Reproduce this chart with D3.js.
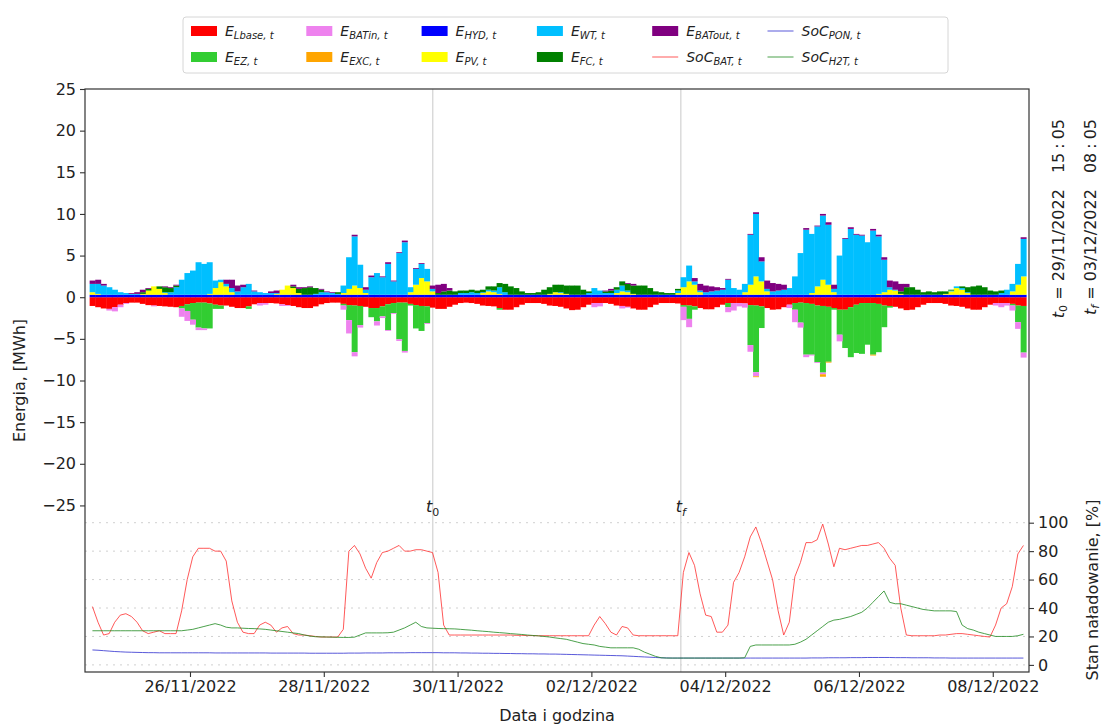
<!DOCTYPE html>
<html>
<head>
<meta charset="utf-8">
<script src="https://cdn.jsdelivr.net/npm/d3@7"></script>
<style>
  body { margin: 0; background: #fff; }
  text { font-family: "DejaVu Sans", sans-serif; fill: #222; }
</style>
</head>
<body>
<svg id="chart" width="1103" height="725"></svg>
<script>
// 2-hour bins, 24/11/2022 12:00 -> 08/12/2022 12:00, one row per day
const E_Lbase = [
  [-1.05,-1.2,-1.35,-1.4,-1.2,-0.9],
  [-0.7,-0.65,-0.65,-0.8,-0.95,-1.0,-1.05,-1.1,-1.15,-1.2,-1.05,-0.85],
  [-0.7,-0.65,-0.65,-0.75,-0.9,-1.0,-1.0,-1.15,-1.3,-1.3,-1.1,-0.85],
  [-0.7,-0.7,-0.7,-0.75,-0.85,-0.95,-1.05,-1.2,-1.3,-1.3,-1.1,-0.85],
  [-0.7,-0.65,-0.65,-0.8,-0.95,-1.0,-1.05,-1.15,-1.3,-1.3,-1.1,-0.85],
  [-0.7,-0.65,-0.65,-0.8,-0.95,-1.05,-1.1,-1.25,-1.4,-1.4,-1.15,-0.9],
  [-0.7,-0.65,-0.7,-0.8,-1.0,-1.05,-1.1,-1.3,-1.5,-1.5,-1.2,-0.9],
  [-0.7,-0.7,-0.7,-0.8,-1.0,-1.05,-1.15,-1.35,-1.55,-1.5,-1.2,-0.9],
  [-0.7,-0.7,-0.7,-0.8,-1.0,-1.05,-1.15,-1.35,-1.5,-1.5,-1.2,-0.9],
  [-0.7,-0.7,-0.7,-0.75,-0.95,-1.0,-1.1,-1.3,-1.45,-1.45,-1.2,-0.9],
  [-0.7,-0.7,-0.7,-0.75,-0.95,-1.0,-1.1,-1.3,-1.5,-1.45,-1.2,-0.9],
  [-0.7,-0.65,-0.7,-0.8,-1.0,-1.05,-1.15,-1.3,-1.5,-1.5,-1.2,-0.9],
  [-0.7,-0.7,-0.7,-0.8,-1.0,-1.05,-1.15,-1.35,-1.55,-1.5,-1.2,-0.9],
  [-0.7,-0.7,-0.7,-0.8,-1.0,-1.05,-1.15,-1.35,-1.5,-1.5,-1.2,-0.9],
  [-0.7,-0.7,-0.7,-0.8,-1.0,-1.05]
]
const E_EZ = [
  [0,0,0,0,0,0],
  [0,0,0,0,0,0,0,0,0,0,-0.3,-0.8],
  [-2.0,-3.0,-3.1,-3.0,-0.5,-0.4,0,0,0,0,-0.3,0],
  [0,0,0,0,0,0,0,0,0,0,0,0],
  [0,0,0,-0.2,-1.8,-5.6,-2.3,0,-1.1,-1.6,-1.2,-3.1],
  [-1.2,-4.4,-5.8,-0.2,-2.8,-3.0,-2.0,0,0,0,0,0],
  [0,0,0,0,0,0,0,-0.2,0,0,0,0],
  [0,0,0,0,0,0,0,0,0,0,0,0],
  [0,0,0,0,0,0,0,0,0,0,0,0],
  [0,0,0,0,-0.2,-1.6,-0.4,0,0,0,0,0],
  [-0.5,0,0,0,-4.8,-8.0,-2.6,0,0,0,0,0],
  [-0.8,-2.4,-6.2,-6.1,-6.8,-8.0,-6.6,-0.2,-3.0,-4.6,-6.0,-5.8],
  [-6.1,-5.0,-6.2,-5.8,-2.6,-0.2,0,0,0,0,0,0],
  [0,0,0,0,0,0,0,0,0,0,0,0],
  [0,0,0,-0.2,-2.0,-5.6]
]
const E_BATin = [
  [0,0,0,-0.2,-0.5,-0.3],
  [-0.1,0,0,0,0,-0.1,0,0,0,0,-1.0,-1.2],
  [-0.6,-0.3,-0.2,0,0,0,0,0,0,0,0,0],
  [-0.3,-0.2,0,0,-0.2,-0.1,0,0,0,0,0,0],
  [0,0,0,-0.5,-1.6,-0.5,-0.3,0,0,-0.5,-0.2,-0.1],
  [-0.1,-0.2,-0.2,0,0,0,-0.1,0,0,0,0,0],
  [0,0,0,0,0,0,0,0,0,0,0,0],
  [0,0,0,0,0,0,0,0,0,0,0,0],
  [-0.5,-0.4,0,0,0,-0.3,-0.1,0,0,0,0,0],
  [0,0,0,0,-1.6,-1.0,0,0,0,0,0,0],
  [-0.6,-0.9,-0.4,-0.5,-0.8,-0.5,0,0,0,0,0,-0.4],
  [-1.5,-0.6,-0.3,-0.1,-0.1,-0.2,0,0,-0.8,0,0,0],
  [0,0,0,0,0,0,0,0,0,0,0,0],
  [0,0,0,0,0,0,0,0,0,0,0,0],
  [-0.3,-0.5,-0.3,-0.6,-0.8,-0.6]
]
const E_EXC = [
  [0,0,0,0,0,0],
  [0,0,0,0,0,0,0,0,0,0,0,0],
  [0,0,0,0,0,0,0,0,0,0,0,0],
  [0,0,0,0,0,0,0,0,0,0,0,0],
  [0,0,0,0,0,0,0,0,0,0,0,0],
  [0,0,0,0,0,0,0,0,0,0,0,0],
  [0,0,0,0,0,0,0,0,0,0,0,0],
  [0,0,0,0,0,0,0,0,0,0,0,0],
  [0,0,0,0,0,0,0,0,0,0,0,0],
  [0,0,0,0,0,0,0,0,0,0,0,0],
  [0,0,0,0,0,-0.1,0,0,0,0,0,0],
  [0,0,0,0,0,-0.3,-0.1,0,0,0,0,0],
  [0,0,-0.1,0,0,0,0,0,0,0,0,0],
  [0,0,0,0,0,0,0,0,0,0,0,0],
  [0,0,0,0,0,0]
]
const E_HYD = [
  [0.3,0.3,0.3,0.3,0.3,0.3],
  [0.3,0.3,0.3,0.3,0.3,0.3,0.3,0.3,0.3,0.3,0.3,0.3],
  [0.3,0.3,0.3,0.3,0.3,0.3,0.3,0.3,0.3,0.3,0.3,0.3],
  [0.3,0.3,0.3,0.3,0.3,0.3,0.3,0.3,0.3,0.3,0.3,0.3],
  [0.3,0.3,0.3,0.3,0.3,0.3,0.3,0.3,0.3,0.3,0.3,0.3],
  [0.3,0.3,0.3,0.3,0.3,0.3,0.3,0.3,0.3,0.3,0.3,0.3],
  [0.3,0.3,0.3,0.3,0.3,0.3,0.3,0.3,0.3,0.3,0.3,0.3],
  [0.3,0.3,0.3,0.3,0.3,0.3,0.3,0.3,0.3,0.3,0.3,0.3],
  [0.3,0.3,0.3,0.3,0.3,0.3,0.3,0.3,0.3,0.3,0.3,0.3],
  [0.3,0.3,0.3,0.3,0.3,0.3,0.3,0.3,0.3,0.3,0.3,0.3],
  [0.3,0.3,0.3,0.3,0.3,0.3,0.3,0.3,0.3,0.3,0.3,0.3],
  [0.3,0.3,0.3,0.3,0.3,0.3,0.3,0.3,0.3,0.3,0.3,0.3],
  [0.3,0.3,0.3,0.3,0.3,0.3,0.3,0.3,0.3,0.3,0.3,0.3],
  [0.3,0.3,0.3,0.3,0.3,0.3,0.3,0.3,0.3,0.3,0.3,0.3],
  [0.3,0.3,0.3,0.3,0.3,0.3]
]
const E_PV = [
  [0.3,0.1,0,0,0,0],
  [0,0,0,0.1,0.5,1.0,0.7,0.2,0,0,0,0],
  [0,0,0,0.1,0.8,1.5,1.0,0.3,0,0,0,0],
  [0,0,0,0.1,0.6,1.1,0.8,0.2,0,0,0,0],
  [0,0,0,0.2,0.7,1.1,0.8,0.2,0,0,0,0],
  [0,0,0,0.3,1.2,2.0,1.6,0.4,0,0,0,0],
  [0,0,0,0,0.2,0.4,0.3,0.1,0,0,0,0],
  [0,0,0,0,0.1,0.3,0.2,0.1,0,0,0,0],
  [0,0,0,0,0.2,0.4,0.3,0.1,0,0,0,0],
  [0,0,0,0.2,0.9,1.6,1.2,0.3,0,0,0,0],
  [0,0,0,0.3,1.2,2.2,1.6,0.4,0,0,0,0],
  [0,0,0,0.2,1.0,1.8,1.2,0.3,0,0,0,0],
  [0,0,0,0.1,0.3,0.6,0.5,0.1,0,0,0,0],
  [0,0,0,0.1,0.4,0.8,0.6,0.2,0,0,0,0],
  [0,0,0,0.4,1.2,2.2]
]
const E_WT = [
  [1.0,1.2,1.1,0.9,0.6,0.3],
  [0.2,0.1,0.1,0,0,0,0,0.1,0.3,0.9,1.8,2.6],
  [2.9,3.9,3.7,3.8,0.9,0.3,0.3,0.5,0.4,0.9,1.3,0.4],
  [0.3,0.2,0.2,0.1,0,0,0,0,0,0,0.1,0.3],
  [0.3,0.2,0.1,0.9,3.8,5.9,2.8,0.4,2.1,2.6,2.1,3.7],
  [1.6,5.0,6.3,0.6,1.9,1.7,1.5,0.3,0,0,0,0],
  [0.2,0.2,0.3,0.2,0.1,0.2,0.2,0.8,0.3,0,0,0],
  [0,0,0,0,0,0,0.1,0,0,0,0,0.2],
  [0.8,0.5,0.2,0.2,0.4,0.7,0.2,0,0,0,0,0],
  [0,0,0,0.3,1.2,1.9,0.4,0.2,0.3,0.4,0.5,0.6],
  [1.8,0.8,0.6,1.0,6.0,7.5,2.4,0.3,0.4,0.5,0.6,0.8],
  [2.2,5.0,7.8,7.1,7.2,7.7,7.2,0.4,4.7,6.7,7.9,7.2],
  [7.1,6.3,7.7,6.9,3.9,0.3,0.1,0,0,0,0,0],
  [0,0,0,0,0.1,0.2,0.2,0.1,0,0,0,0],
  [0,0.2,0.6,0.9,2.5,4.5]
]
const E_FC = [
  [0,0,0,0,0,0],
  [0,0,0,0.2,0.2,0,0.3,0.6,0.5,0.2,0,0],
  [0,0,0,0,0,0,0,0,0,0,0,0],
  [0,0,0,0,0,0,0.2,0.5,0.8,0.9,0.7,0.3],
  [0,0,0.2,0,0,0,0,0,0,0,0,0],
  [0,0,0,0,0,0,0,0,0.2,0.4,0.5,0.4],
  [0.3,0.3,0.3,0.3,0.3,0.4,0.5,0.5,1.0,1.0,0.8,0.4],
  [0.2,0.2,0.3,0.6,0.8,0.9,0.9,1.0,1.1,1.1,0.6,0.2],
  [0,0,0.2,0.3,0.3,0.5,0.8,1.0,1.1,1.1,0.8,0.4],
  [0.3,0.2,0.2,0.2,0,0,0,0,0,0,0,0],
  [0,0,0,0,0,0,0,0,0,0,0,0],
  [0,0,0,0,0,0,0,0,0,0,0,0],
  [0,0,0,0,0,0,0,0.3,0.9,0.9,0.6,0.3],
  [0.4,0.3,0.4,0.3,0.1,0,0.2,0.6,1.0,1.1,0.9,0.5],
  [0.4,0.3,0,0,0,0]
]
const E_BATout = [
  [0.4,0.5,0.2,0,0,0],
  [0,0.1,0.2,0.3,0.1,0,0,0.1,0.1,0.1,0,0],
  [0,0,0,0,0,0,0.5,1.0,0.7,0.3,0,0.1],
  [0,0,0.2,0.3,0,0,0.2,0.2,0.1,0.1,0,0.1],
  [0.1,0.1,0,0,0,0.2,0,0.3,0.2,0,0.1,0.2],
  [0.1,0.1,0.2,0,0.1,0.1,0,0.4,1.0,0.9,0.3,0],
  [0,0,0,0,0,0,0,0,0,0,0,0],
  [0,0,0,0,0,0,0,0,0,0,0,0],
  [0,0,0.1,0.2,0,0,0.1,0.2,0,0,0,0],
  [0,0,0,0,0,0,0.4,0.8,0.8,0.6,0.4,0.2],
  [0.1,0,0,0,0.1,0.2,0.5,1.0,1.0,0.8,0.6,0],
  [0,0,0.2,0,0.1,0.2,0.3,0.5,0,0.1,0.2,0.1],
  [0.1,0,0.2,0.2,0.3,0.8,1.0,0.9,0.4,0,0,0],
  [0,0,0,0,0,0,0,0,0,0,0,0],
  [0,0,0,0,0,0.2]
]
// state of charge [%], at the middle of each 2-hour bin
const SoC_BAT = [
  [41,30,21,22,30,35],
  [36,34,30,24,22,23,24,22,22,22,38,60],
  [76,82,82,82,80,80,73,45,30,23,22,22],
  [28,30,28,23,26,27,22,21,21,20.5,20,19.6],
  [19.6,19.6,19.6,25,80,84,78,68,61,72,79,80],
  [82,84,80,80,81,81,80,79,65,28,21,21],
  [21,21,21,21,21,21,21,21,21,21,20.8,20.8],
  [20.6,20.6,20.5,20.5,20.5,20.5,20.5,20.5,20.5,20.5,20.5,20.5],
  [28,34,29,23,21,27,26,21,20.5,20.5,20.5,20.5],
  [20.5,20.5,20.5,20.5,65,79,70,50,35,34,23,23],
  [28,58,65,76,90,97,86,73,60,38,21,30],
  [62,72,86,86,88,99,85,69,82,81,82,83],
  [84,84,85,86,82,75,70,40,21,20.5,20.5,20.5],
  [20.5,20.5,21,21,21.5,22,22,21.5,21,20.5,20,19.6],
  [28,40,43,55,78,84]
]
const SoC_H2T = [
  [24,24,24,24,24,24],
  [24,24,24,24,24,24,24,24,24,24,24,24.5],
  [25,26,27,28,29,28,26.5,26,26,25.8,25.6,25.5],
  [25.3,25,24.5,24,23.5,23,22.5,22,21,20.3,19.8,19.7],
  [19.6,19.5,19.4,19.3,19.3,19.5,21,22.5,22.5,22.5,22.5,22.6],
  [23,24.5,26,28,30,27,26,25.8,25.6,25.5,25.4,25.3],
  [25,24.7,24.4,24,23.7,23.4,23,22.7,22.4,22,21.7,21.4],
  [21,20.7,20.4,20,19.6,19,18.5,18,17,16,15,14.5],
  [14,13,12.5,12,12,12,12,12,11,9,7.5,6],
  [5,4.8,4.8,4.8,4.8,4.8,4.8,4.8,4.8,4.8,4.8,4.8],
  [4.8,4.8,4.8,5,13,14,14,14,14,14,14,14],
  [14.5,16,18,21,24,27,30,31.5,32,33,34,35.5],
  [37,40,44,48,52,44,43,43,42,41,40,39],
  [38.5,38,38,38,38,37.5,28,25.5,24.5,23,22,21],
  [20,20,20,20,20.5,21.5]
]
const SoC_PON = [
  [10.5,10.3,10.0,9.7,9.4,9.2],
  [9.0,8.9,8.8,8.7,8.6,8.6,8.5,8.5,8.5,8.5,8.5,8.5],
  [8.5,8.5,8.5,8.5,8.4,8.4,8.4,8.4,8.4,8.4,8.4,8.4],
  [8.4,8.4,8.3,8.3,8.3,8.3,8.3,8.3,8.3,8.2,8.2,8.2],
  [8.2,8.2,8.2,8.2,8.3,8.3,8.3,8.4,8.4,8.4,8.4,8.5],
  [8.5,8.5,8.5,8.6,8.6,8.6,8.6,8.6,8.6,8.5,8.5,8.5],
  [8.4,8.4,8.3,8.3,8.2,8.2,8.1,8.1,8.0,8.0,7.9,7.9],
  [7.8,7.8,7.7,7.7,7.6,7.6,7.5,7.4,7.3,7.2,7.1,7.0],
  [6.9,6.8,6.7,6.6,6.5,6.4,6.2,6.0,5.8,5.6,5.4,5.2],
  [5.0,4.9,4.8,4.8,4.8,4.8,4.8,4.8,4.8,4.8,4.8,4.8],
  [4.8,4.8,4.8,4.8,4.8,4.8,4.8,4.8,4.8,4.8,4.8,4.8],
  [4.8,4.8,4.8,4.9,4.9,4.9,5.0,5.0,5.0,5.0,5.1,5.1],
  [5.1,5.2,5.2,5.2,5.2,5.2,5.1,5.1,5.1,5.0,5.0,5.0],
  [5.0,4.9,4.9,4.9,4.8,4.8,4.8,4.8,4.8,4.8,4.8,4.8],
  [4.8,4.8,4.8,4.8,4.8,4.8]
]

const yTicksLeft = [-25, -20, -15, -10, -5, 0, 5, 10, 15, 20, 25]
const yTicksRight = [0, 20, 40, 60, 80, 100]
const xTickDates = ['2022-11-26', '2022-11-28', '2022-11-30', '2022-12-02', '2022-12-04', '2022-12-06', '2022-12-08']
const markers = [
  { name: '0', time: '2022-11-29 15:05', date: '29/11/2022', clock: '15\u2005:\u200505' },
  { name: 'f', time: '2022-12-03 08:05', date: '03/12/2022', clock: '08\u2005:\u200505' }
]

const series = [
  { key: 'Lbase', vals: E_Lbase, color: '#ff0000', sub: 'Lbase, t' },
  { key: 'EZ', vals: E_EZ, color: '#32cd32', sub: 'EZ, t' },
  { key: 'BATin', vals: E_BATin, color: '#ee82ee', sub: 'BATin, t' },
  { key: 'EXC', vals: E_EXC, color: '#ffa500', sub: 'EXC, t' },
  { key: 'HYD', vals: E_HYD, color: '#0000ff', sub: 'HYD, t' },
  { key: 'PV', vals: E_PV, color: '#ffff00', sub: 'PV, t' },
  { key: 'WT', vals: E_WT, color: '#00bfff', sub: 'WT, t' },
  { key: 'FC', vals: E_FC, color: '#008000', sub: 'FC, t' },
  { key: 'BATout', vals: E_BATout, color: '#800080', sub: 'BATout, t' }
]
const socSeries = [
  { key: 'BAT', vals: SoC_BAT, color: '#ff3030', sub: 'BAT, t' },
  { key: 'PON', vals: SoC_PON, color: '#3030d0', sub: 'PON, t' },
  { key: 'H2T', vals: SoC_H2T, color: '#1f8a1f', sub: 'H2T, t' }
]

const plot = { left: 85, right: 1029, top: 89, bottom: 672 }
const parseTime = d3.timeParse('%Y-%m-%d %H:%M')
const parseDay = d3.timeParse('%Y-%m-%d')

const start = new Date(2022, 10, 24, 12)
const n = E_WT.flat().length
const binStart = d3.range(n).map(k => d3.timeHour.offset(start, 2 * k))

const rows = binStart.map((t, i) => {
  const r = { t }
  series.forEach(s => { r[s.key] = s.vals.flat()[i] })
  return r
})

const x = d3.scaleTime()
  .domain([new Date(2022, 10, 24, 10, 20), new Date(2022, 11, 8, 13, 0)])
  .range([plot.left, plot.right])
const yL = d3.scaleLinear().domain([-45, 25]).range([plot.bottom, plot.top])
const yR = d3.scaleLinear().domain([-5, 405]).range([plot.bottom, plot.top])

const svg = d3.select('#chart')
svg.append('rect').attr('width', 1103).attr('height', 725).attr('fill', '#fff')

svg.append('clipPath').attr('id', 'clip')
  .append('rect')
  .attr('x', plot.left).attr('y', plot.top)
  .attr('width', plot.right - plot.left).attr('height', plot.bottom - plot.top)

// dotted grid of the SoC axis
svg.append('g')
  .selectAll('line')
  .data(yTicksRight)
  .enter()
  .append('line')
  .attr('x1', plot.left).attr('x2', plot.right)
  .attr('y1', d => yR(d)).attr('y2', d => yR(d))
  .attr('stroke', '#d0d0d0')
  .attr('stroke-dasharray', '2,5')

// t0 / tf vertical lines
svg.append('g')
  .selectAll('line')
  .data(markers)
  .enter()
  .append('line')
  .attr('x1', d => x(parseTime(d.time))).attr('x2', d => x(parseTime(d.time)))
  .attr('y1', plot.top).attr('y2', plot.bottom)
  .attr('stroke', '#d8d8d8')
  .attr('stroke-width', 1.4)

// stacked bars
const stacked = d3.stack()
  .keys(series.map(s => s.key))
  .offset(d3.stackOffsetDiverging)(rows)

const bars = svg.append('g').attr('clip-path', 'url(#clip)')
stacked.forEach((layer, li) => {
  bars.append('g')
    .attr('fill', series[li].color)
    .selectAll('rect')
    .data(layer.filter(d => d[1] !== d[0]))
    .enter()
    .append('rect')
    .attr('x', d => x(d.data.t))
    .attr('width', d => x(d3.timeHour.offset(d.data.t, 2)) - x(d.data.t) + 0.4)
    .attr('y', d => yL(Math.max(d[0], d[1])))
    .attr('height', d => Math.abs(yL(d[0]) - yL(d[1])))
})

// SoC lines
const socLine = d3.line()
  .x((d, i) => x(d3.timeHour.offset(binStart[i], 1)))
  .y(d => yR(d))
svg.append('g').attr('clip-path', 'url(#clip)')
  .selectAll('path')
  .data(socSeries)
  .enter()
  .append('path')
  .attr('d', d => socLine(d.vals.flat()))
  .attr('fill', 'none')
  .attr('stroke', d => d.color)
  .attr('stroke-width', 1)
  .attr('stroke-opacity', 0.8)

// frame
svg.append('rect')
  .attr('x', plot.left).attr('y', plot.top)
  .attr('width', plot.right - plot.left).attr('height', plot.bottom - plot.top)
  .attr('fill', 'none').attr('stroke', '#333').attr('stroke-width', 1.2)

// axes
const styleAxis = g => {
  g.select('.domain').remove()
  g.attr('font-family', '"DejaVu Sans", sans-serif').attr('font-size', 16)
  g.selectAll('line').attr('stroke', '#333').attr('stroke-width', 1.1)
  g.selectAll('text').attr('fill', '#222')
}
svg.append('g')
  .attr('transform', `translate(${plot.left},0)`)
  .call(d3.axisLeft(yL).tickValues(yTicksLeft).tickSize(5).tickPadding(4))
  .call(styleAxis)
svg.append('g')
  .attr('transform', `translate(${plot.right},0)`)
  .call(d3.axisRight(yR).tickValues(yTicksRight).tickSize(5).tickPadding(4))
  .call(styleAxis)
svg.append('g')
  .attr('transform', `translate(0,${plot.bottom})`)
  .call(d3.axisBottom(x).tickValues(xTickDates.map(parseDay))
    .tickFormat(d3.timeFormat('%d/%m/%Y')).tickSize(5).tickPadding(4))
  .call(styleAxis)

// axis titles
svg.append('text')
  .attr('transform', `translate(25,${(plot.top + plot.bottom) / 2}) rotate(-90)`)
  .attr('text-anchor', 'middle').style('font-size', '16px')
  .text('Energia, [MWh]')
svg.append('text')
  .attr('transform', `translate(1098,590) rotate(-90)`)
  .attr('text-anchor', 'middle').style('font-size', '16px')
  .text('Stan naładowanie, [%]')
svg.append('text')
  .attr('x', (plot.left + plot.right) / 2).attr('y', 721)
  .attr('text-anchor', 'middle').style('font-size', '16px')
  .text('Data i godzina')

// t0 / tf labels above the SoC panel
markers.forEach(m => {
  const t = svg.append('text')
    .attr('x', x(parseTime(m.time))).attr('y', 512)
    .attr('text-anchor', 'middle').style('font-size', '16px')
  t.append('tspan').style('font-style', 'italic').text('t')
  t.append('tspan').attr('dy', 4).style('font-size', '11px')
    .style('font-style', m.name === 'f' ? 'italic' : 'normal').text(m.name)
})

// rotated notes on the right, ending at the top of the plot
markers.forEach((m, i) => {
  const bx = 1064 + i * 32
  const t = svg.append('text')
    .attr('transform', `translate(${bx},119) rotate(-90)`)
    .attr('text-anchor', 'end').style('font-size', '16px')
  t.append('tspan').style('font-style', 'italic').text('t')
  t.append('tspan').attr('dy', 3).style('font-size', '11px')
    .style('font-style', m.name === 'f' ? 'italic' : 'normal').text(m.name)
  t.append('tspan').attr('dy', -3).text(' = ' + m.date + '\u2003' + m.clock)
})

// legend
const legend = svg.append('g')
legend.append('rect')
  .attr('x', 183).attr('y', 17).attr('width', 765).attr('height', 56)
  .attr('rx', 3).attr('fill', '#fff').attr('stroke', '#d6d6d6')
const legendItems = [
  { s: series[0], kind: 'bar', pre: 'E' }, { s: series[1], kind: 'bar', pre: 'E' },
  { s: series[2], kind: 'bar', pre: 'E' }, { s: series[3], kind: 'bar', pre: 'E' },
  { s: series[4], kind: 'bar', pre: 'E' }, { s: series[5], kind: 'bar', pre: 'E' },
  { s: series[6], kind: 'bar', pre: 'E' }, { s: series[7], kind: 'bar', pre: 'E' },
  { s: series[8], kind: 'bar', pre: 'E' }, { s: socSeries[0], kind: 'line', pre: 'SoC' },
  { s: socSeries[1], kind: 'line', pre: 'SoC' }, { s: socSeries[2], kind: 'line', pre: 'SoC' }
]
legendItems.forEach((it, i) => {
  const col = Math.floor(i / 2), row = i % 2
  const lx = 191 + col * 115.3, ly = 31 + row * 26
  if (it.kind === 'bar') {
    legend.append('rect').attr('x', lx).attr('y', ly - 5).attr('width', 26).attr('height', 10)
      .attr('fill', it.s.color)
  } else {
    legend.append('line').attr('x1', lx).attr('x2', lx + 26).attr('y1', ly).attr('y2', ly)
      .attr('stroke', it.s.color).attr('stroke-width', 1).attr('stroke-opacity', 0.8)
  }
  const t = legend.append('text').attr('x', lx + 34).attr('y', ly + 5)
    .style('font-style', 'italic').style('font-size', '14px')
  t.append('tspan').text(it.pre)
  t.append('tspan').attr('dy', 3).style('font-size', '10px').text(it.s.sub)
})
</script>
</body>
</html>
